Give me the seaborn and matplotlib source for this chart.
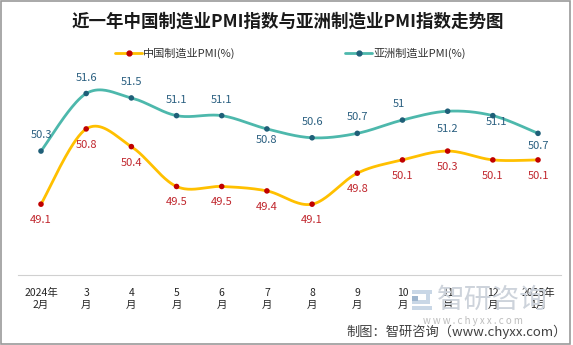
import numpy as np
import pandas as pd
import matplotlib
matplotlib.use("Agg")
import matplotlib.pyplot as plt
import seaborn as sns
from matplotlib.lines import Line2D
from matplotlib.patches import Rectangle

# ---- data -------------------------------------------------------------
months = ["2024年\n2月", "3\n月", "4\n月", "5\n月", "6\n月", "7\n月",
          "8\n月", "9\n月", "10\n月", "11\n月", "12\n月", "2025年\n1月"]
china_pmi = [49.1, 50.8, 50.4, 49.5, 49.5, 49.4, 49.1, 49.8, 50.1, 50.3, 50.1, 50.1]
asia_pmi = [50.3, 51.6, 51.5, 51.1, 51.1, 50.8, 50.6, 50.7, 51.0, 51.2, 51.1, 50.7]
series_names = ["中国制造业PMI(%)", "亚洲制造业PMI(%)"]

# ---- styling ----------------------------------------------------------
sns.set_theme(style="white")
plt.rcParams["font.family"] = ["Noto Sans CJK SC", "DejaVu Sans"]

CN_LINE, CN_DOT, CN_TXT = "#FFC000", "#C00000", "#C0262D"
AS_LINE, AS_DOT, AS_TXT = "#4DB8AC", "#1F5F78", "#2A5F80"

W, H = 573, 345
fig = plt.figure(figsize=(W / 100, H / 100), dpi=100)
fig.patch.set_facecolor("white")
ax = fig.add_axes([18.4 / W, 1 - 275 / H, 542.2 / W, 199.2 / H])


def smooth(values, steps=40):
    """Bezier smoothing through the points (Catmull-Rom style tangents)."""
    y = np.asarray(values, dtype=float)
    x = np.arange(len(y), dtype=float)
    pts = np.column_stack([x, y])
    ext = np.vstack([pts[0], pts, pts[-1]])
    out = []
    t = np.linspace(0, 1, steps)[:, None]
    for i in range(len(pts) - 1):
        p0, p3 = ext[i + 1], ext[i + 2]
        c1 = p0 + (ext[i + 2] - ext[i]) / 6
        c2 = p3 - (ext[i + 3] - ext[i + 1]) / 6
        seg = ((1 - t) ** 3) * p0 + 3 * ((1 - t) ** 2) * t * c1 \
            + 3 * (1 - t) * t ** 2 * c2 + t ** 3 * p3
        out.append(seg if i == 0 else seg[1:])
    out = np.vstack(out)
    return out[:, 0], out[:, 1]


curves = []
points = []
for name, vals in zip(series_names, [china_pmi, asia_pmi]):
    sx, sy = smooth(vals)
    curves.append(pd.DataFrame({"x": sx, "y": sy, "series": name}))
    points.append(pd.DataFrame({"x": np.arange(len(vals)), "y": vals, "series": name}))
curve_df = pd.concat(curves, ignore_index=True)
point_df = pd.concat(points, ignore_index=True)

line_pal = {series_names[0]: CN_LINE, series_names[1]: AS_LINE}
dot_pal = {series_names[0]: CN_DOT, series_names[1]: AS_DOT}

sns.lineplot(data=curve_df, x="x", y="y", hue="series", palette=line_pal,
             sort=False, estimator=None, linewidth=2.0, legend=False, ax=ax)
sns.scatterplot(data=point_df, x="x", y="y", hue="series", palette=dot_pal,
                s=16, linewidth=0, legend=False, ax=ax, zorder=5)

# ---- value labels -----------------------------------------------------
px = 0.72  # pixels -> points
for i, v in enumerate(china_pmi):
    ax.annotate(f"{v:g}", (i, v), xytext=(0, -16 * px), textcoords="offset points",
                ha="center", va="center", fontsize=8, color=CN_TXT)

asia_offsets = [(0, 16), (0, 16), (0, 16), (0, 16), (0, 16), (0, -11),
                (0, 16), (0, 16), (-4, 16), (0, -18), (4, -6), (0, -13)]
for i, v in enumerate(asia_pmi):
    dx, dy = asia_offsets[i]
    ax.annotate(f"{v:g}", (i, v), xytext=(dx * px, dy * px), textcoords="offset points",
                ha="center", va="center", fontsize=8, color=AS_TXT)

# ---- axes -------------------------------------------------------------
ax.set_xlim(-0.5, len(months) - 0.5)
ax.set_ylim(47.5, 52.0)
ax.set_xticks(range(len(months)))
ax.set_xticklabels(months, fontsize=7.5, color="#262626", linespacing=1.25)
ax.set_xticks(np.arange(-0.5, len(months), 1), minor=True)
ax.tick_params(axis="x", which="major", length=0, pad=9)
ax.tick_params(axis="x", which="minor", length=3, width=0.8, color="#D0D0D0", direction="out")
ax.set_yticks([])
ax.set_xlabel("")
ax.set_ylabel("")
for side in ["left", "right", "top"]:
    ax.spines[side].set_visible(False)
ax.spines["bottom"].set_color("#D0D0D0")
ax.spines["bottom"].set_linewidth(0.8)
ax.set_facecolor("none")

# ---- title ------------------------------------------------------------
fig.text(287.5 / W, 1 - 22 / H, "近一年中国制造业PMI指数与亚洲制造业PMI指数走势图",
         ha="center", va="center", fontsize=12.6, fontweight="bold", color="#1a1a1a")

# ---- legend -----------------------------------------------------------
leg_y = 1 - 53 / H
for (x0, x1), name, lc, dc in [((115, 142), series_names[0], CN_LINE, CN_DOT),
                               ((345, 372), series_names[1], AS_LINE, AS_DOT)]:
    fig.add_artist(Line2D([x0 / W, x1 / W], [leg_y, leg_y], transform=fig.transFigure,
                          color=lc, linewidth=2.0))
    fig.add_artist(Line2D([(x0 + x1) / 2 / W], [leg_y], transform=fig.transFigure,
                          marker="o", markersize=3.5, color=dc, linestyle="none"))
    fig.text((x1 + 1) / W, leg_y, name, ha="left", va="center", fontsize=8, color="#333333")

# ---- watermark --------------------------------------------------------
def fig_rect(x, y, w, h, color):
    fig.add_artist(Rectangle((x / W, 1 - (y + h) / H), w / W, h / H,
                             transform=fig.transFigure, color=color, lw=0, zorder=0))

fig_rect(412, 290, 20, 4, "#C9D7E6")
fig_rect(426, 294, 4, 6, "#C9D7E6")
fig_rect(412, 300, 18, 4, "#C9D7E6")
fig_rect(412, 296, 6, 5, "#9FB6CE")
fig_rect(412, 306, 20, 4, "#C9D7E6")
fig.text(437 / W, 1 - 300 / H, "智研咨询", ha="left", va="center", fontsize=20,
         color="#CDD3DB", zorder=0)
fig.text(423 / W, 1 - 321 / H, "w w w . c h y x x . c o m", ha="left", va="center",
         fontsize=7, color="#BDBDBD", zorder=0)

# ---- source -----------------------------------------------------------
fig.text(567 / W, 1 - 332 / H, "制图：智研咨询（www.chyxx.com）", ha="right", va="center",
         fontsize=9.5, color="#404040")

# ---- frame ------------------------------------------------------------
fig.add_artist(Rectangle((1 / W, 1 / H), 569 / W, 343 / H, transform=fig.transFigure,
                         fill=False, edgecolor="#9A9A9A", linewidth=1.2))

fig.savefig("out.png", dpi=100)
